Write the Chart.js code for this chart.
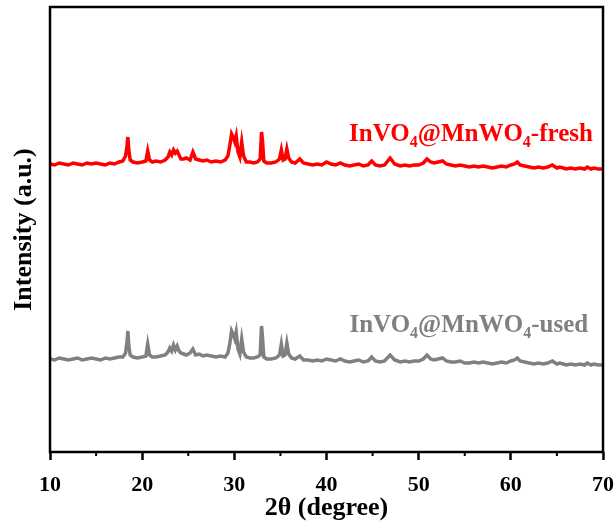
<!DOCTYPE html>
<html>
<head>
<meta charset="utf-8">
<script src="https://cdn.jsdelivr.net/npm/chart.js@4.4.0/dist/chart.umd.min.js"></script>
<style>
  html, body { margin: 0; padding: 0; background: #fff; }
  #wrap { width: 616px; height: 524px; }
</style>
</head>
<body>
<div id="wrap"><canvas id="xrd" width="616" height="524"></canvas></div>
<script>
// 2theta positions (degree), shared by both patterns
const twoTheta = [
  10, 10.5, 11, 11.5, 12, 12.5, 13, 13.5, 14, 14.5,
  15, 15.5, 16, 16.5, 17, 17.5, 17.9, 18.2, 18.35, 18.45,
  18.55, 18.7, 19, 19.5, 20, 20.4, 20.6, 20.8, 21.1, 21.5,
  22, 22.5, 22.8, 23.0, 23.2, 23.4, 23.6, 23.8, 24.0, 24.2,
  24.5, 24.8, 25.2, 25.5, 25.8, 26.2, 26.6, 27, 27.5, 28,
  28.5, 29, 29.3, 29.5, 29.7, 29.9, 30.05, 30.2, 30.4, 30.6,
  30.8, 31.0, 31.3, 31.7, 32.1, 32.5, 32.8, 32.95, 33.05, 33.2,
  33.5, 34, 34.5, 34.9, 35.1, 35.3, 35.5, 35.7, 35.9, 36.2,
  36.6, 37.1, 37.5, 38, 38.5, 39, 39.5, 40, 40.5, 41,
  41.5, 42, 42.5, 43, 43.5, 44, 44.5, 44.9, 45.3, 45.8,
  46.3, 46.9, 47.4, 48, 48.5, 49, 49.5, 50, 50.5, 50.9,
  51.3, 51.7, 52.1, 52.6, 53, 53.5, 54, 54.5, 55, 55.5,
  56, 56.5, 57, 57.5, 58, 58.5, 59, 59.5, 60, 60.4,
  60.7, 61, 61.5, 62, 62.5, 63, 63.5, 64, 64.5, 65,
  65.3, 65.7, 66, 66.5, 67, 67.5, 68, 68.3, 68.7, 69,
  69.5, 70
];

// intensity (a.u., stacked with offset) - fresh sample
const freshIntensity = [
  288, 287, 289, 288, 287, 289, 288, 287, 289, 288,
  289, 288, 287, 289, 288, 290, 291, 296, 306, 315,
  302, 292, 290, 289, 290, 291, 301, 292, 290, 291,
  290, 292, 295, 300, 297, 302, 299, 301, 297, 293,
  293, 294, 292, 300, 293, 292, 291, 292, 290, 291,
  290, 292, 296, 306, 318, 314, 310, 316, 300, 295,
  310, 296, 290, 290, 289, 290, 293, 320, 312, 291,
  289, 289, 290, 293, 302, 292, 293, 303, 294, 290,
  289, 293, 289, 288, 287, 288, 287, 290, 288, 287,
  289, 287, 286, 287, 288, 286, 287, 291, 287, 286,
  287, 294, 288, 286, 287, 286, 287, 287, 289, 293,
  290, 289, 290, 291, 288, 287, 286, 287, 286, 285,
  286, 285, 286, 285, 284, 285, 286, 285, 287, 288,
  290, 287, 286, 285, 284, 285, 284, 285, 287, 284,
  285, 284, 283, 284, 283, 284, 283, 285, 283, 284,
  283, 283
];

// intensity - used sample
const usedIntensity = [
  93, 92, 94, 93, 92, 93, 94, 92, 93, 94,
  93, 92, 94, 93, 94, 95, 95, 99, 110, 121,
  106, 97, 95, 94, 95, 96, 108, 97, 95, 95,
  96, 97, 100, 104, 101, 107, 102, 106, 101, 99,
  98, 97, 99, 103, 97, 98, 96, 97, 96, 95,
  96, 95, 99, 108, 121, 117, 113, 120, 103, 98,
  113, 100, 95, 94, 94, 95, 97, 126, 115, 95,
  93, 93, 94, 97, 108, 96, 97, 109, 98, 94,
  93, 96, 92, 92, 91, 92, 91, 93, 92, 91,
  93, 91, 90, 91, 92, 90, 91, 95, 91, 90,
  91, 97, 92, 90, 91, 90, 91, 91, 93, 97,
  93, 92, 93, 94, 91, 90, 90, 91, 89, 89,
  90, 89, 90, 89, 88, 89, 90, 89, 91, 92,
  94, 91, 90, 89, 88, 89, 88, 89, 91, 88,
  89, 88, 87, 88, 87, 88, 87, 89, 87, 88,
  87, 87
];

const xTicksMinor = [15, 25, 35, 45, 55, 65];

// sample labels: [main, sub, main, sub, main]
const freshLabel = ['InVO', '4', '@MnWO', '4', '-fresh'];
const usedLabel = ['InVO', '4', '@MnWO', '4', '-used'];

const serif = "'Liberation Serif', 'Times New Roman', serif";

const toPoints = (ys) => twoTheta.map((x, i) => ({ x: x, y: ys[i] }));

// frame + minor ticks + curve labels
const decorPlugin = {
  id: 'decor',
  afterDraw(chart) {
    const ctx = chart.ctx;
    const a = chart.chartArea;
    const xs = chart.scales.x;
    const ys = chart.scales.y;
    ctx.save();
    ctx.strokeStyle = '#000';
    ctx.lineWidth = 2.5;
    ctx.strokeRect(a.left, a.top, a.right - a.left, a.bottom - a.top);
    // minor ticks
    ctx.lineWidth = 2;
    xTicksMinor.forEach(v => {
      const px = xs.getPixelForValue(v);
      ctx.beginPath();
      ctx.moveTo(px, a.bottom);
      ctx.lineTo(px, a.bottom + 4);
      ctx.stroke();
    });
    // labels
    const drawLabel = (parts, xVal, yVal, color) => {
      const big = 'bold 25px ' + serif;
      const small = 'bold 16px ' + serif;
      let w = 0;
      parts.forEach((p, i) => {
        ctx.font = (i % 2 === 1) ? small : big;
        w += ctx.measureText(p).width;
      });
      let x = xs.getPixelForValue(xVal) - w;
      const y = ys.getPixelForValue(yVal);
      ctx.fillStyle = color;
      ctx.textBaseline = 'alphabetic';
      ctx.textAlign = 'left';
      parts.forEach((p, i) => {
        const sub = i % 2 === 1;
        ctx.font = sub ? small : big;
        ctx.fillText(p, x, sub ? y + 6 : y);
        x += ctx.measureText(p).width;
      });
    };
    drawLabel(freshLabel, 68.9, 311, '#ff0000');
    drawLabel(usedLabel, 68.4, 120, '#808080');
    ctx.restore();
  }
};

new Chart(document.getElementById('xrd'), {
  type: 'line',
  data: {
    datasets: [
      {
        label: 'InVO4@MnWO4-fresh',
        data: toPoints(freshIntensity),
        borderColor: '#ff0000',
        borderWidth: 3.5,
        pointRadius: 0,
        tension: 0
      },
      {
        label: 'InVO4@MnWO4-used',
        data: toPoints(usedIntensity),
        borderColor: '#808080',
        borderWidth: 3.5,
        pointRadius: 0,
        tension: 0
      }
    ]
  },
  options: {
    responsive: false,
    animation: false,
    layout: { padding: { top: 7, right: 13, left: 0, bottom: 0 } },
    plugins: { legend: { display: false }, tooltip: { enabled: false } },
    scales: {
      x: {
        type: 'linear',
        min: 10,
        max: 70,
        afterFit(scale) {
          scale.height = 72;
          scale.paddingLeft = 0;
          scale.paddingRight = 0;
        },
        ticks: {
          stepSize: 10,
          color: '#000',
          padding: 12,
          maxRotation: 0,
          font: { family: serif, size: 22, weight: 'bold' }
        },
        grid: {
          drawOnChartArea: false,
          tickLength: 8,
          tickWidth: 2.5,
          color: '#000'
        },
        border: { display: false },
        title: {
          display: true,
          text: '2θ (degree)',
          color: '#000',
          padding: { top: 0, bottom: 0 },
          font: { family: serif, size: 26, weight: 'bold' }
        }
      },
      y: {
        min: 0,
        max: 445,
        afterFit(scale) { scale.width = 50; },
        ticks: { display: false },
        grid: { display: false },
        border: { display: false },
        title: {
          display: true,
          text: 'Intensity (a.u.)',
          color: '#000',
          padding: { top: 9, bottom: 0 },
          font: { family: serif, size: 26, weight: 'bold' }
        }
      }
    }
  },
  plugins: [decorPlugin]
});
</script>
</body>
</html>
